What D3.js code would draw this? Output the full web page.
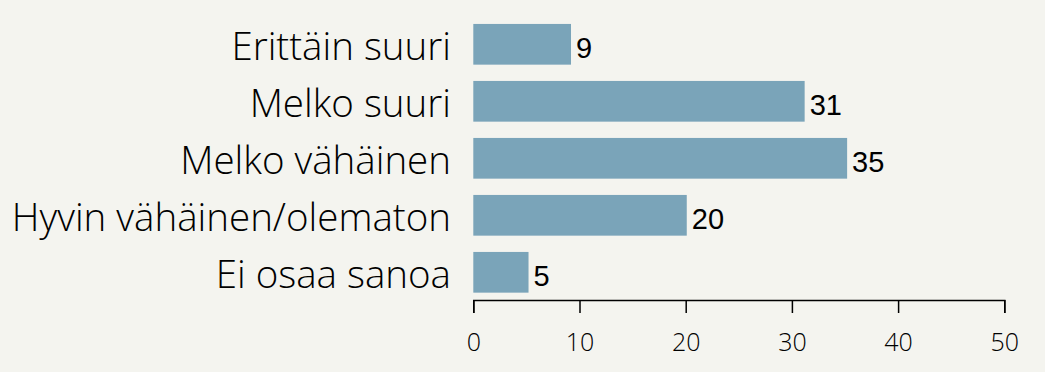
<!DOCTYPE html>
<head>
  <meta charset="utf-8">
  <script src="https://d3js.org/d3.v7.min.js"></script>
  <style>
    body { margin: 0; background: #f4f4ef; }
    svg { display: block; }
    .cat { font-family: 'Open Sans', sans-serif; font-weight: 300; font-size: 38.5px; fill: #000; }
    .val { font-family: 'Liberation Sans', Arial, sans-serif; font-size: 29px; fill: #000; }
    .tick text { font-family: 'Open Sans', sans-serif; font-weight: 300; font-size: 25px; fill: #000; }
  </style>
</head>

<body>
  <svg></svg>

  <script>
    const width = 1045;
    const height = 372;

    const categories = ['Erittäin suuri', 'Melko suuri', 'Melko vähäinen', 'Hyvin vähäinen/olematon', 'Ei osaa sanoa'];
    const values = [9.2, 31.2, 35.2, 20.1, 5.2];
    const labels = ['9', '31', '35', '20', '5'];
    const ticks = [0, 10, 20, 30, 40, 50];

    const data = categories.map((c, i) => ({ cat: c, value: values[i], label: labels[i] }));

    const svg = d3.select('svg')
      .attr('width', width)
      .attr('height', height);

    const x = d3.scaleLinear()
      .domain([0, 50])
      .range([473.3, 1004.3]);

    const y = d3.scaleBand()
      .domain(categories)
      .range([15.8, 300.8])
      .paddingInner(0.286)
      .paddingOuter(0.143);

    // bars
    svg.selectAll('rect.bar').data(data)
      .enter().append('rect')
      .attr('class', 'bar')
      .attr('x', x(0))
      .attr('y', d => y(d.cat))
      .attr('width', d => x(d.value) - x(0))
      .attr('height', y.bandwidth())
      .attr('fill', '#7aa4b9');

    // value labels
    svg.selectAll('text.val').data(data)
      .enter().append('text')
      .attr('class', 'val')
      .attr('x', d => x(d.value) + 5)
      .attr('y', d => y(d.cat) + y.bandwidth() / 2 + 13.5)
      .text(d => d.label);

    // category labels
    svg.selectAll('text.cat').data(data)
      .enter().append('text')
      .attr('class', 'cat')
      .attr('text-anchor', 'end')
      .attr('x', 451)
      .attr('y', d => y(d.cat) + y.bandwidth() / 2 + 16)
      .text(d => d.cat);

    // x axis
    const axis = svg.append('g')
      .attr('transform', 'translate(0,300)')
      .call(d3.axisBottom(x).tickValues(ticks).tickSize(13).tickSizeOuter(13).tickPadding(20));

    axis.select('.domain').attr('stroke', '#000').attr('stroke-width', 1.5);
    axis.selectAll('.tick line').attr('stroke', '#000').attr('stroke-width', 1.5);
    axis.selectAll('.tick text').attr('dy', '0.71em');
  </script>
</body>
